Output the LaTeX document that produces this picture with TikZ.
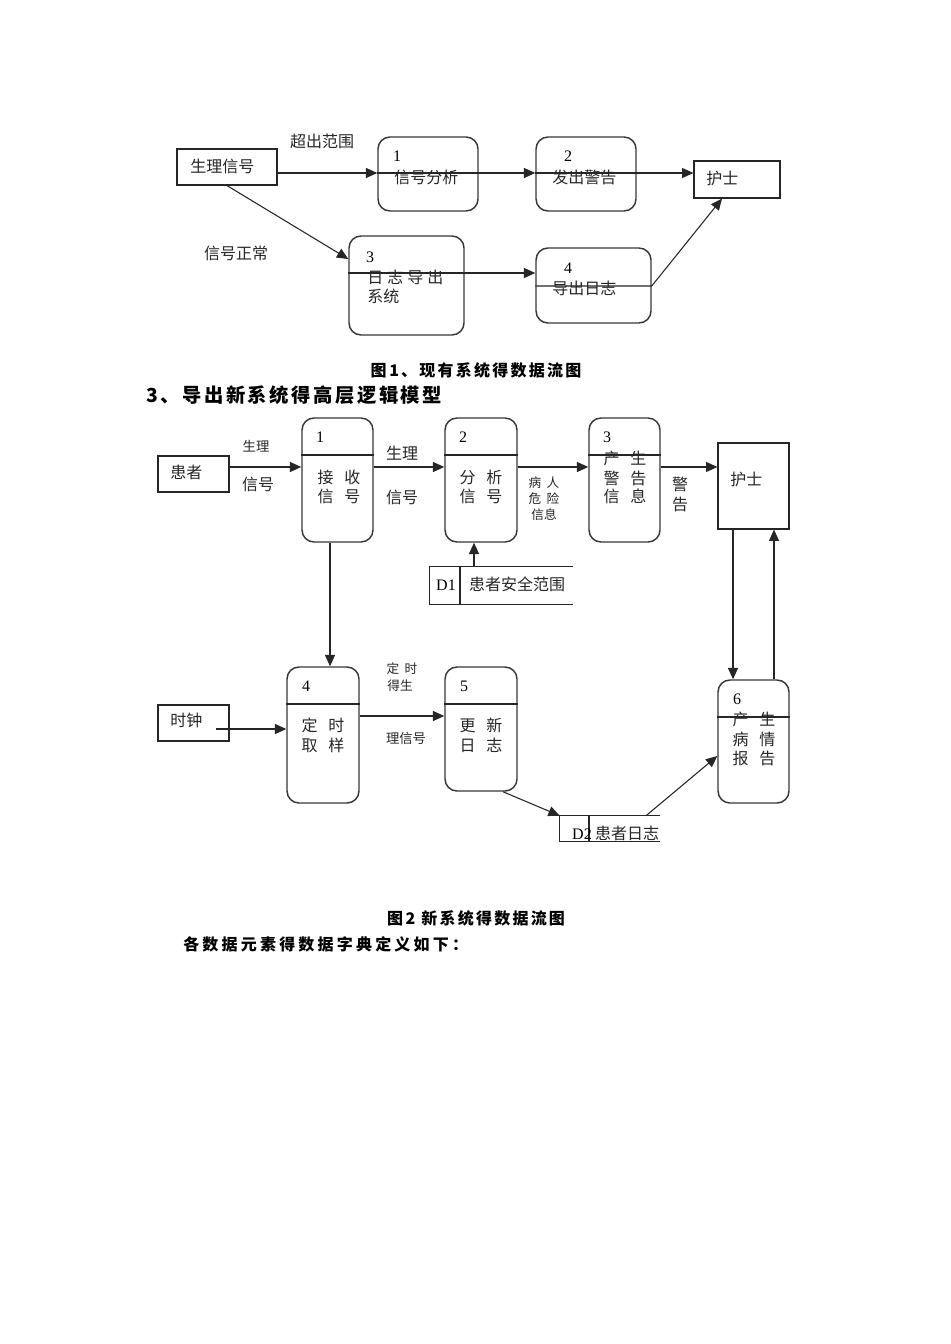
\documentclass[tikz,border=0pt]{standalone}
\usepackage{fontspec}
\setmainfont{Liberation Serif}
\newfontfamily\cjk{Noto Sans CJK SC}
\usetikzlibrary{arrows.meta,fit,calc}
\begin{document}
\begin{tikzpicture}[x=0.75pt,y=-0.75pt,
  proc/.style={draw=black!78, line width=1.1pt, rounded corners=9pt, inner sep=0pt},
  ent/.style={draw=black!85, line width=0.9pt, inner sep=0pt},
  store/.style={inner sep=0pt},
  arr/.style={-{Triangle[length=8.5pt,width=7.5pt]}, line width=0.8pt, draw=black!85},
  ln/.style={line width=0.8pt, draw=black!85},
  zh/.style={font=\cjk\fontsize{12}{14}\selectfont, inner sep=0pt, text=black!85},
  zhs/.style={font=\cjk\fontsize{10}{12}\selectfont, inner sep=0pt, text=black!85},
  zhxs/.style={font=\cjk\fontsize{9.5}{11}\selectfont, inner sep=0pt, text=black!85},
  num/.style={font=\fontsize{12}{14}\selectfont, inner sep=0pt},
  captxt/.style={font=\cjk\bfseries\fontsize{12}{14}\selectfont\addfontfeature{LetterSpace=14}, inner sep=0pt},
  headtxt/.style={font=\cjk\bfseries\fontsize{14.5}{17}\selectfont\addfontfeature{LetterSpace=13}, inner sep=0pt}
]
\useasboundingbox (0,0) rectangle (950,1344);
\fill[white] (0,0) rectangle (950,1344);

% ---------------- Figure 1 ----------------
\node[ent, fit={(177,149)(277,185)}] (s) {};
\node[zh, anchor=west] (st) at (190,166) {生理信号};
\node[proc, fit={(378,137)(478,211)}] (p1) {};
\node[num] (p1n) at (397,156) {1};
\node[zh, anchor=west] (p1t) at (394,177) {信号分析};
\node[proc, fit={(536,137)(636,211)}] (p2) {};
\node[num] (p2n) at (568,156) {2};
\node[zh, anchor=west] (p2t) at (552,177) {发出警告};
\node[ent, fit={(694,161)(780,198)}] (n1) {};
\node[zh, anchor=west] (n1t) at (706,178) {护士};
\node[proc, fit={(349,236)(464,335)}] (p3) {};
\node[num] (p3n) at (370,257) {3};
\node[zh, anchor=west] (p3t) at (367,277) {日\hspace{3pt}志\hspace{3pt}导\hspace{3pt}出};
\node[zh, anchor=west] (p3u) at (367,296) {系统};
\node[proc, fit={(536,248)(651,323)}] (p4) {};
\node[num] (p4n) at (568,268) {4};
\node[zh, anchor=west] (p4t) at (552,288) {导出日志};

\node[zh] (l1) at (322,141) {超出范围};
\node[zh] (l2) at (236,253) {信号正常};

\coordinate (r1) at (0,173);
\coordinate (r3) at (0,273);
\coordinate (r4) at (0,286);
\draw[arr] (s.east |- r1) -- (p1.west |- r1);
\draw[arr] (p1.west |- r1) -- (p2.west |- r1);
\draw[arr] (p2.west |- r1) -- (n1.west |- r1);
\draw[arr] (s.south) -- (p3.west |- 0,259);
\draw[arr] (p3.west |- r3) -- (p4.west |- r3);
\draw[arr] (p4.west |- r4) -- (p4.east |- r4) -- ($(n1.south)+(-15,0)$);

\node[captxt] (c1) at (476,370) {图\,1、现有系统得数据流图};
\node[headtxt, anchor=west] (h1) at (146,395) {3、导出新系统得高层逻辑模型};

% ---------------- Figure 2 ----------------
\node[ent, fit={(158,456)(229,492)}] (pat) {};
\node[zh, anchor=west] (patt) at (170,472) {患者};

\node[proc, fit={(302,418)(373,542)}] (q1) {};
\node[num] (q1n) at (320,437) {1};
\draw[ln] (q1.west |- 0,455) -- (q1.east |- 0,455);
\node[zh] (q1a) at (339,477) {接\hspace{8pt}收};
\node[zh] (q1b) at (339,496) {信\hspace{8pt}号};

\node[proc, fit={(445,418)(517,542)}] (q2) {};
\node[num] (q2n) at (463,437) {2};
\draw[ln] (q2.west |- 0,455) -- (q2.east |- 0,455);
\node[zh] (q2a) at (481,477) {分\hspace{8pt}析};
\node[zh] (q2b) at (481,496) {信\hspace{8pt}号};

\node[proc, fit={(589,418)(660,542)}] (q3) {};
\node[num] (q3n) at (607,437) {3};
\draw[ln] (q3.west |- 0,455) -- (q3.east |- 0,455);
\node[zh] (q3a) at (625,458) {产\hspace{8pt}生};
\node[zh] (q3b) at (625,478) {警\hspace{8pt}告};
\node[zh] (q3c) at (625,496) {信\hspace{8pt}息};

\node[ent, fit={(718,443)(789,529)}] (n2) {};
\node[zh, anchor=west] (n2t) at (730,479) {护士};

\node[proc, fit={(718,680)(789,803)}] (q6) {};
\node[num] (q6n) at (737,699) {6};
\draw[ln] (q6.west |- 0,717) -- (q6.east |- 0,717);
\node[zh] (q6a) at (754,719) {产\hspace{8pt}生};
\node[zh] (q6b) at (754,739) {病\hspace{8pt}情};
\node[zh] (q6c) at (754,758) {报\hspace{8pt}告};

\coordinate (r5) at (0,467);
\draw[arr] (pat.east |- r5) -- (q1.west |- r5);
\draw[arr] (q1.east |- r5) -- (q2.west |- r5);
\draw[arr] (q2.east |- r5) -- (q3.west |- r5);
\draw[arr] (q3.east |- r5) -- (n2.west |- r5);

\node[zhs] (a1) at (256,446) {生理};
\node[zh] (a2) at (258,484) {信号};
\node[zh] (a3) at (402,453) {生理};
\node[zh] (a4) at (402,497) {信号};
\node[zhxs] (a5) at (544,483) {病\hspace{4pt}人};
\node[zhxs] (a6) at (544,499) {危\hspace{4pt}险};
\node[zhxs] (a7) at (544,515) {信息};
\node[zh] (a8) at (680,484) {警};
\node[zh] (a9) at (680,504) {告};

\draw[arr] (n2.south -| 733,0) -- (q6.north -| 733,0);
\draw[arr] (q6.north -| 774,0) -- (n2.south -| 774,0);

% D1 store
\node[store, fit={(430,567)(573,604)}] (d1) {};
\draw[ln] (d1.north east) -- (d1.north west) -- (d1.south west) -- (d1.south east);
\draw[ln] (d1.north -| 460,0) -- (d1.south -| 460,0);
\node[num] (d1n) at (446,585) {D1};
\node[zh] (d1t) at (517,584) {患者安全范围};
\draw[arr] (d1.north -| 474,0) -- (q2.south -| 474,0);

% lower row
\node[ent, fit={(158,705)(229,741)}] (clk) {};
\node[zh, anchor=west] (clkt) at (170,720) {时钟};

\node[proc, fit={(287,667)(359,803)}] (q4) {};
\node[num] (q4n) at (306,686) {4};
\draw[ln] (q4.west |- 0,704) -- (q4.east |- 0,704);
\node[zh] (q4a) at (323,725) {定\hspace{8pt}时};
\node[zh] (q4b) at (323,745) {取\hspace{8pt}样};

\node[proc, fit={(445,667)(517,791)}] (q5) {};
\node[num] (q5n) at (464,686) {5};
\draw[ln] (q5.west |- 0,704) -- (q5.east |- 0,704);
\node[zh] (q5a) at (481,725) {更\hspace{8pt}新};
\node[zh] (q5b) at (481,745) {日\hspace{8pt}志};

\draw[arr] (q1.south -| 330,0) -- (q4.north -| 330,0);
\draw[arr] ($(clk.east)+(-14,6)$) -- (q4.west |- 0,729);
\draw[arr] (q4.east |- 0,716) -- (q5.west |- 0,716);
\node[zhxs] (b1) at (402,669) {定\hspace{4pt}时};
\node[zhxs] (b2) at (400,686) {得生};
\node[zhs] (b3) at (406,738) {理信号};

% D2 store
\node[store, fit={(560,816)(660,841)}] (d2) {};
\draw[ln] (d2.north east) -- (d2.north west) -- (d2.south west) -- (d2.south east);
\draw[ln] (d2.north -| 589,0) -- (d2.south -| 589,0);
\node[num] (d2n) at (582,834) {D2};
\node[zh] (d2t) at (627,833) {患者日志};

\draw[arr] ($(q5.south)+(22,0)$) -- (d2.north west);
\draw[arr] (d2.north -| 646,0) -- (q6.west |- 0,756);

\node[captxt] (c2) at (476,918) {图\,2\ 新系统得数据流图};
\node[captxt, anchor=west, font=\cjk\bfseries\fontsize{12}{14}\selectfont\addfontfeature{LetterSpace=20}] (c3) at (183,944) {各数据元素得数据字典定义如下：};
\end{tikzpicture}
\end{document}
